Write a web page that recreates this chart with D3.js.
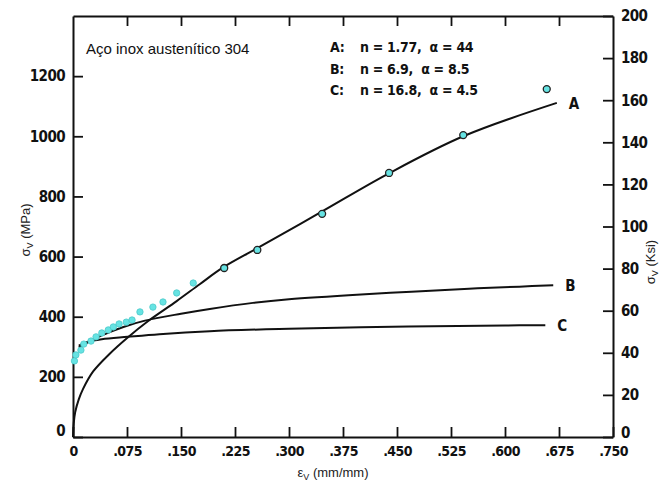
<!DOCTYPE html>
<html lang="pt">
<head>
    <meta charset="UTF-8">
    <title>Aço inox austenítico 304</title>
    <style>
        body { margin: 0; background: #fff; }
        .tick text { font-family: 'Liberation Sans Narrow', 'DejaVu Sans Condensed', sans-serif; font-weight: bold; fill: #111; letter-spacing: -0.6px; }
    </style>
</head>
<body>
    <script src="https://d3js.org/d3.v7.min.js"></script>
    <script>
        // curvas (deformação verdadeira x tensão verdadeira, MPa)
        const epsA = [0, 0.001, 0.003, 0.008, 0.014, 0.028, 0.051, 0.076, 0.104, 0.144, 0.176, 0.208, 0.256, 0.346, 0.4375, 0.542, 0.672];
        const sigA = [0, 45, 82, 125, 160, 218, 277, 331, 385, 452, 508, 563, 628, 750, 875, 1000, 1111];

        const epsB = [0.008, 0.02, 0.04, 0.07, 0.1, 0.15, 0.19, 0.25, 0.3, 0.4, 0.47, 0.55, 0.62, 0.667];
        const sigB = [298, 314, 338, 366, 387, 410, 426, 446, 458, 474, 483, 493, 500, 505];

        const epsC = [0.008, 0.02, 0.04, 0.076, 0.12, 0.19, 0.3, 0.4, 0.5, 0.6, 0.656];
        const sigC = [304, 316, 325, 333, 342, 352, 360, 365, 368, 371, 372];

        // pontos experimentais
        const epsPts = [0.002, 0.004, 0.011, 0.015, 0.025, 0.032, 0.040, 0.049, 0.056, 0.064, 0.074, 0.082, 0.093, 0.111, 0.125, 0.144, 0.167, 0.21, 0.256, 0.346, 0.439, 0.542, 0.658];
        const sigPts = [253, 273, 289, 309, 319, 333, 346, 356, 366, 376, 382, 389, 416, 432, 449, 479, 512, 562, 622, 742, 878, 1004, 1157];

        const xTicks = [0, 0.075, 0.150, 0.225, 0.300, 0.375, 0.450, 0.525, 0.600, 0.675, 0.750];
        const mpaTicks = [0, 200, 400, 600, 800, 1000, 1200];
        const ksiTicks = [0, 20, 40, 60, 80, 100, 120, 140, 160, 180, 200];

        const curveNames = ["A", "B", "C"];
        const legendLines = ["n = 1.77,  α = 44", "n = 6.9,  α = 8.5", "n = 16.8,  α = 4.5"];

        const width = 662, height = 482;
        const mLeft = 73, mRight = 613, mTop = 16, mBottom = 437;

        const svg = d3.select("body").append("svg")
            .attr("width", width)
            .attr("height", height);

        const x = d3.scaleLinear().domain([0, 0.75]).range([mLeft, mRight]);
        const yL = d3.scaleLinear().domain([0, 1400]).range([mBottom, mTop]);
        const yR = d3.scaleLinear().domain([0, 200]).range([mBottom, mTop]);

        const fmtX = d => d === 0 ? "0" : d3.format(".3f")(d).replace(/^0/, "");

        // eixos (ticks para dentro)
        const gB = svg.append("g").attr("transform", `translate(0,${mBottom})`)
            .call(d3.axisBottom(x).tickValues(xTicks).tickFormat(fmtX)
                .tickSizeInner(-10).tickSizeOuter(0).tickPadding(9));
        gB.selectAll("text").style("font-size", "14px");

        svg.append("g").attr("transform", `translate(0,${mTop})`)
            .call(d3.axisTop(x).tickValues(xTicks.slice(1, -1)).tickFormat("")
                .tickSizeInner(-10).tickSizeOuter(0));

        const gL = svg.append("g").attr("transform", `translate(${mLeft},0)`)
            .call(d3.axisLeft(yL).tickValues(mpaTicks).tickFormat(d3.format("d"))
                .tickSizeInner(-10).tickSizeOuter(0).tickPadding(8));
        gL.selectAll("text").style("font-size", "15px");
        gL.selectAll(".tick").filter(d => d === 0).select("text").attr("dy", "-0.1em");

        const gR = svg.append("g").attr("transform", `translate(${mRight},0)`)
            .call(d3.axisRight(yR).tickValues(ksiTicks).tickFormat(d3.format("d"))
                .tickSizeInner(-10).tickSizeOuter(0).tickPadding(8));
        gR.selectAll("text").style("font-size", "15px");
        gR.selectAll(".tick").filter(d => d === 0).select("text").attr("dy", "0.05em");

        svg.selectAll(".domain").attr("stroke", "#111").attr("stroke-width", 2);
        svg.selectAll(".tick line").attr("stroke", "#111").attr("stroke-width", 1.8);

        // curvas A, B, C
        const line = d3.line()
            .x(d => x(d[0]))
            .y(d => yL(d[1]))
            .curve(d3.curveCatmullRom.alpha(0.5));

        const curves = [d3.zip(epsA, sigA), d3.zip(epsB, sigB), d3.zip(epsC, sigC)];

        svg.selectAll("path.curve")
            .data(curves)
            .enter()
            .append("path")
            .attr("class", "curve")
            .attr("d", line)
            .attr("fill", "none")
            .attr("stroke", "#111")
            .attr("stroke-width", 2);

        // rótulos das curvas
        svg.selectAll("text.cname")
            .data(curves)
            .enter()
            .append("text")
            .attr("class", "cname")
            .attr("x", d => x(d[d.length - 1][0]) + 12)
            .attr("y", d => yL(d[d.length - 1][1]) + 6)
            .style("font-family", "'Liberation Sans Narrow', 'DejaVu Sans Condensed', sans-serif")
            .style("font-weight", "bold")
            .style("font-size", "15px")
            .style("fill", "#111")
            .text((d, i) => curveNames[i]);

        // pontos
        svg.selectAll("circle")
            .data(d3.zip(epsPts, sigPts))
            .enter()
            .append("circle")
            .attr("cx", d => x(d[0]))
            .attr("cy", d => yL(d[1]))
            .attr("r", d => d[0] > 0.19 ? 3.5 : 3.2)
            .attr("fill", "#66e3e3")
            .attr("stroke", d => d[0] > 0.19 ? "#222" : "#4cc9c9")
            .attr("stroke-width", d => d[0] > 0.19 ? 1.3 : 0.8);

        // título
        svg.append("text")
            .attr("x", 86).attr("y", 54)
            .style("font-family", "'Liberation Sans', Arial, sans-serif")
            .style("font-size", "15px")
            .style("fill", "#111")
            .text("Aço inox austenítico 304");

        // legenda dos parâmetros
        const leg = svg.append("g")
            .style("font-family", "'Liberation Sans Narrow', 'DejaVu Sans Condensed', sans-serif")
            .style("font-weight", "bold")
            .style("font-size", "14px")
            .style("letter-spacing", "-0.3px")
            .style("fill", "#111");

        leg.selectAll("text.lk")
            .data(curveNames)
            .enter()
            .append("text")
            .attr("class", "lk")
            .attr("x", 330)
            .attr("y", (d, i) => 52 + i * 21.5)
            .text(d => d + ":");

        leg.selectAll("text.lv")
            .data(legendLines)
            .enter()
            .append("text")
            .attr("class", "lv")
            .attr("x", 360)
            .attr("y", (d, i) => 52 + i * 21.5)
            .style("white-space", "pre")
            .text(d => d);

        // títulos dos eixos
        const yTitleL = svg.append("text")
            .attr("transform", "translate(30,230) rotate(-90)")
            .attr("text-anchor", "middle")
            .style("font-family", "'Liberation Sans', Arial, sans-serif")
            .style("font-size", "13px")
            .style("fill", "#222");
        yTitleL.append("tspan").text("σ");
        yTitleL.append("tspan").attr("dy", 3).style("font-size", "9px").text("V");
        yTitleL.append("tspan").attr("dy", -3).text(" (MPa)");

        const yTitleR = svg.append("text")
            .attr("transform", "translate(655,262) rotate(-90)")
            .attr("text-anchor", "middle")
            .style("font-family", "'Liberation Sans', Arial, sans-serif")
            .style("font-size", "13px")
            .style("fill", "#222");
        yTitleR.append("tspan").text("σ");
        yTitleR.append("tspan").attr("dy", 3).style("font-size", "9px").text("V");
        yTitleR.append("tspan").attr("dy", -3).text(" (Ksi)");

        const xTitle = svg.append("text")
            .attr("x", 333).attr("y", 477)
            .attr("text-anchor", "middle")
            .style("font-family", "'Liberation Sans', Arial, sans-serif")
            .style("font-size", "13px")
            .style("fill", "#222");
        xTitle.append("tspan").text("ε");
        xTitle.append("tspan").attr("dy", 3).style("font-size", "9px").text("V");
        xTitle.append("tspan").attr("dy", -3).text(" (mm/mm)");
    </script>
</body>
</html>
